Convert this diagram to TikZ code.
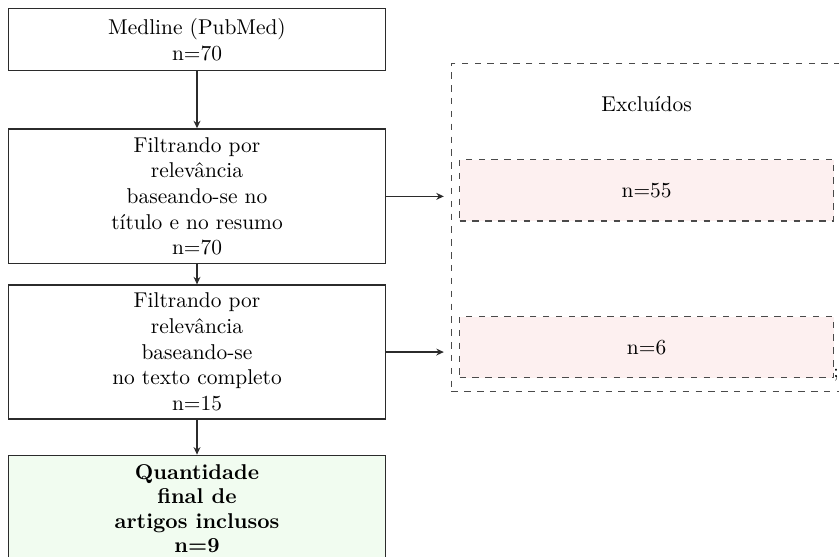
\documentclass[tikz,border=0pt]{standalone}
\usepackage{xcolor}
\usepackage{tikz}
\usetikzlibrary{arrows.meta,positioning,fit}
\definecolor{ink}{HTML}{2B2B2B}
\definecolor{dash}{HTML}{4A4A4A}
\definecolor{exfill}{HTML}{FDF0F0}
\definecolor{okfill}{HTML}{F1FCF0}

\begin{document}
\begin{tikzpicture}[
  box/.style={draw=ink,line width=0.6pt,fill=white,align=center,inner xsep=4pt,inner ysep=2pt,minimum width=176pt},
  final/.style={box,fill=okfill,font=\bfseries},
  exbox/.style={draw=dash,line width=0.6pt,dashed,fill=exfill,align=center,minimum width=174.7pt,minimum height=28.5pt},
  flow/.style={-{Stealth[length=3.5pt,width=3.2pt]},draw=ink,line width=0.6pt},
]
\useasboundingbox (0,0) rectangle (391.8pt,-259.7pt);

\node[box,minimum height=29pt,anchor=north west] (medline) at (3.7pt,-3.7pt) {Medline (PubMed)\\n=70};
\node[box,minimum height=63pt,below=26.6pt of medline] (filt1) {Filtrando por\\relevância\\baseando-se no\\título e no resumo\\n=70};
\node[box,minimum height=62.6pt,below=9.3pt of filt1] (filt2) {Filtrando por\\relevância\\baseando-se\\no texto completo\\n=15};
\node[final,minimum height=50pt,below=16.3pt of filt2] (final) {Quantidade\\[-0.6pt]final de\\[-0.6pt]artigos inclusos\\[-0.6pt]n=9};

% excluded articles, one box per filtering step
\node[exbox,anchor=west] (ex55) at ([xshift=34pt,yshift=2.8pt]filt1.east) {n=55};
\node[exbox,anchor=west] (ex6) at ([xshift=34pt,yshift=2.2pt]filt2.east) {n=6};
\node[minimum height=25.4pt,above=13pt of ex55] (extitle) {Excluídos};
\node[anchor=south west,inner sep=0pt,font=\small] (semi) at ([xshift=-0.6pt,yshift=-1.6pt]ex6.south east) {;};

\node[draw=dash,line width=0.5pt,dashed,fit=(extitle)(ex55)(ex6),inner xsep=3.5pt,inner ysep=6pt] (excl) {};

\draw[flow] (medline) -- (filt1);
\draw[flow] (filt1) -- (filt2);
\draw[flow] (filt2) -- (final);
\draw[flow,shorten >=3.3pt] (filt1.east) -- (filt1.east -| excl.west);
\draw[flow,shorten >=3.3pt] (filt2.east) -- (filt2.east -| excl.west);
\end{tikzpicture}
\end{document}
